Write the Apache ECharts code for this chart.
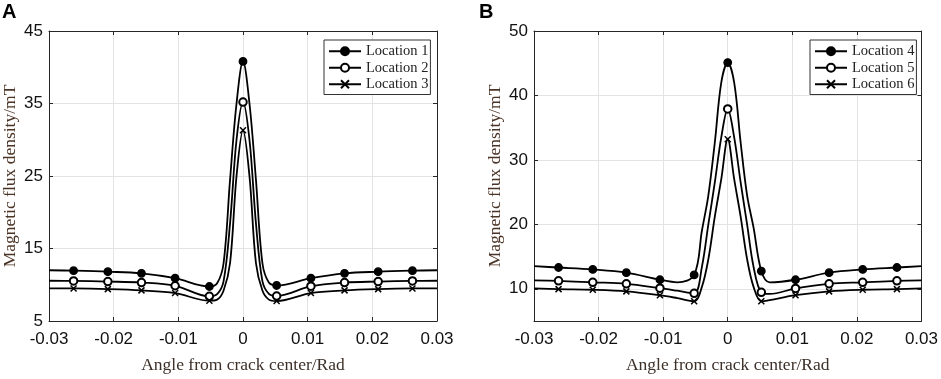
<!DOCTYPE html>
<html>
<head>
<meta charset="utf-8">
<script src="https://cdn.jsdelivr.net/npm/echarts@6/dist/echarts.min.js"></script>
<style>
html, body { margin: 0; padding: 0; background: #fff; }
#main { width: 941px; height: 379px; }
</style>
</head>
<body>
<div id="main"></div>
<script>
// panel A: angle (rad) and flux density (mT)
const angleA = [-0.03, -0.0262, -0.0209, -0.0157, -0.0105, -0.0052, -0.004, -0.003, -0.002, -0.001, 0,
    0.001, 0.002, 0.003, 0.004, 0.0052, 0.0105, 0.0157, 0.0209, 0.0262, 0.03];
const loc1 = [12.0, 11.94, 11.8, 11.57, 10.9, 9.76, 10.2, 13.0, 24.5, 35.0, 40.8,
    35.0, 24.5, 13.0, 10.3, 9.9, 10.9, 11.57, 11.8, 11.94, 12.0];
const loc2 = [10.55, 10.53, 10.44, 10.3, 9.86, 8.4, 8.7, 10.5, 18.5, 30.0, 35.2,
    30.0, 18.5, 10.5, 8.75, 8.45, 9.8, 10.3, 10.44, 10.53, 10.55];
const loc3 = [9.5, 9.49, 9.4, 9.22, 8.85, 7.8, 7.95, 9.2, 13.0, 25.0, 31.3,
    25.0, 13.0, 9.2, 7.95, 7.75, 8.85, 9.22, 9.4, 9.49, 9.5];
// 1 = a marker is drawn at that angle
const markA = [0, 1, 1, 1, 1, 1, 0, 0, 0, 0, 1, 0, 0, 0, 0, 1, 1, 1, 1, 1, 0];

// panel B
const angleB = [-0.03, -0.0262, -0.0209, -0.0157, -0.0105, -0.0078, -0.0052, -0.004, -0.003, -0.002, -0.001, 0,
    0.001, 0.002, 0.003, 0.004, 0.0052, 0.0065, 0.0105, 0.0157, 0.0209, 0.0262, 0.03];
const loc4 = [13.5, 13.3, 13.0, 12.5, 11.4, 11.0, 12.15, 19.0, 24.5, 32.7, 42.0, 45.1,
    42.0, 32.7, 24.5, 19.5, 12.75, 11.0, 11.4, 12.5, 13.0, 13.3, 13.5];
const loc5 = [11.3, 11.23, 11.0, 10.77, 10.1, 9.7, 9.3, 13.4, 20.0, 26.5, 33.5, 37.9,
    33.5, 26.5, 20.0, 13.4, 9.45, 9.2, 10.05, 10.77, 11.0, 11.23, 11.3];
const loc6 = [10.05, 9.95, 9.85, 9.6, 9.0, 8.55, 8.06, 10.3, 14.6, 21.2, 27.0, 33.2,
    27.0, 21.2, 14.6, 10.3, 8.06, 8.25, 9.0, 9.6, 9.85, 9.95, 10.05];
const markB = [0, 1, 1, 1, 1, 0, 1, 0, 0, 0, 0, 1, 0, 0, 0, 0, 1, 0, 1, 1, 1, 1, 0];

const xTicks = [-0.03, -0.02, -0.01, 0, 0.01, 0.02, 0.03];
const yTicksA = [5, 15, 25, 35, 45];
const yTicksB = [10, 20, 30, 40, 50];

const serif = 'Liberation Serif';
const sans = 'Liberation Sans';
const crossPath = 'path://M0,0L10,10M10,0L0,10';

let toData = (xs, ys, marks) => xs.map((x, i) => (
    marks[i] ? [x, ys[i]] : { value: [x, ys[i]], symbol: 'none' }
));

let makeSeries = (name, xs, ys, marks, symbol, idx) => ({
    name: name,
    type: 'line',
    xAxisIndex: idx * 2,
    yAxisIndex: idx * 2,
    smooth: 0.35,
    symbol: symbol,
    symbolSize: symbol === crossPath ? 6 : 7.5,
    showAllSymbol: true,
    lineStyle: { color: '#000', width: 1.8 },
    itemStyle: symbol === crossPath
        ? { color: '#000', borderColor: '#000', borderWidth: 1.5 }
        : { color: '#000', borderColor: '#000', borderWidth: 1.3 },
    emphasis: { disabled: true },
    data: toData(xs, ys, marks)
});

let mainX = (idx) => ({
    type: 'value', gridIndex: idx, position: 'bottom',
    min: -0.03, max: 0.03, interval: 0.01,
    axisLine: { show: true, onZero: false, lineStyle: { color: '#262626', width: 1 } },
    axisTick: { show: true, inside: true, length: 4, customValues: xTicks, lineStyle: { color: '#262626' } },
    axisLabel: { margin: 10, customValues: xTicks, color: '#111', fontFamily: sans, fontSize: 17 },
    splitLine: { show: true, lineStyle: { color: '#e3e3e3', width: 1 } },
    name: 'Angle from crack center/Rad', nameLocation: 'middle', nameGap: 35,
    nameTextStyle: { fontFamily: serif, fontSize: 17.5, color: '#3d3029' }
});
let topX = (idx) => ({
    type: 'value', gridIndex: idx, position: 'top',
    min: -0.03, max: 0.03, interval: 0.01,
    axisLine: { show: true, onZero: false, lineStyle: { color: '#262626', width: 1 } },
    axisTick: { show: true, inside: true, length: 4, customValues: xTicks, lineStyle: { color: '#262626' } },
    axisLabel: { show: false }, splitLine: { show: false }
});
let mainY = (idx, min, max, ticks) => ({
    type: 'value', gridIndex: idx, position: 'left', min: min, max: max,
    axisLine: { show: true, onZero: false, lineStyle: { color: '#262626', width: 1 } },
    axisTick: { show: true, inside: true, length: 4, customValues: ticks, lineStyle: { color: '#262626' } },
    axisLabel: { margin: 6, customValues: ticks, color: '#111', fontFamily: sans, fontSize: 17 },
    splitLine: { show: true, lineStyle: { color: '#e3e3e3', width: 1 } },
    name: 'Magnetic flux density/mT', nameLocation: 'middle', nameGap: 30, nameRotate: 90,
    nameTextStyle: { fontFamily: serif, fontSize: 17.5, color: '#4b3426' }
});
let rightY = (idx, min, max, ticks) => ({
    type: 'value', gridIndex: idx, position: 'right', min: min, max: max,
    axisLine: { show: true, onZero: false, lineStyle: { color: '#262626', width: 1 } },
    axisTick: { show: true, inside: true, length: 4, customValues: ticks, lineStyle: { color: '#262626' } },
    axisLabel: { show: false, customValues: ticks }, splitLine: { show: false }
});

let legendOf = (names, left) => ({
    data: names,
    orient: 'vertical',
    left: left, top: 40,
    padding: [3, 2, 2, 4],
    itemWidth: 32, itemHeight: 10, itemGap: 0,
    borderColor: '#333', borderWidth: 1,
    backgroundColor: '#fff',
    selectedMode: false,
    textStyle: { fontFamily: serif, fontSize: 14.5, color: '#222', lineHeight: 16.5 }
});

let option = {
    animation: false,
    backgroundColor: '#fff',
    grid: [
        { left: 48.5, top: 31, width: 388.5, height: 294 },
        { left: 534, top: 31, width: 390, height: 294 }
    ],
    xAxis: [mainX(0), topX(0), mainX(1), topX(1)],
    yAxis: [
        mainY(0, 5, 45, yTicksA), rightY(0, 5, 45, yTicksA),
        mainY(1, 5, 50, yTicksB), rightY(1, 5, 50, yTicksB)
    ],
    legend: [
        legendOf(['Location 1', 'Location 2', 'Location 3'], 324),
        legendOf(['Location 4', 'Location 5', 'Location 6'], 810)
    ],
    graphic: [
        { type: 'text', left: 2, top: 2, style: { text: 'A', font: 'bold 20px "Liberation Sans"', fill: '#000' } },
        { type: 'text', left: 479, top: 2, style: { text: 'B', font: 'bold 20px "Liberation Sans"', fill: '#000' } }
    ],
    series: [
        makeSeries('Location 1', angleA, loc1, markA, 'circle', 0),
        makeSeries('Location 2', angleA, loc2, markA, 'emptyCircle', 0),
        makeSeries('Location 3', angleA, loc3, markA, crossPath, 0),
        makeSeries('Location 4', angleB, loc4, markB, 'circle', 1),
        makeSeries('Location 5', angleB, loc5, markB, 'emptyCircle', 1),
        makeSeries('Location 6', angleB, loc6, markB, crossPath, 1)
    ]
};

let chart = echarts.init(document.getElementById('main'), null, { renderer: 'canvas' });
chart.setOption(option);
</script>
</body>
</html>
